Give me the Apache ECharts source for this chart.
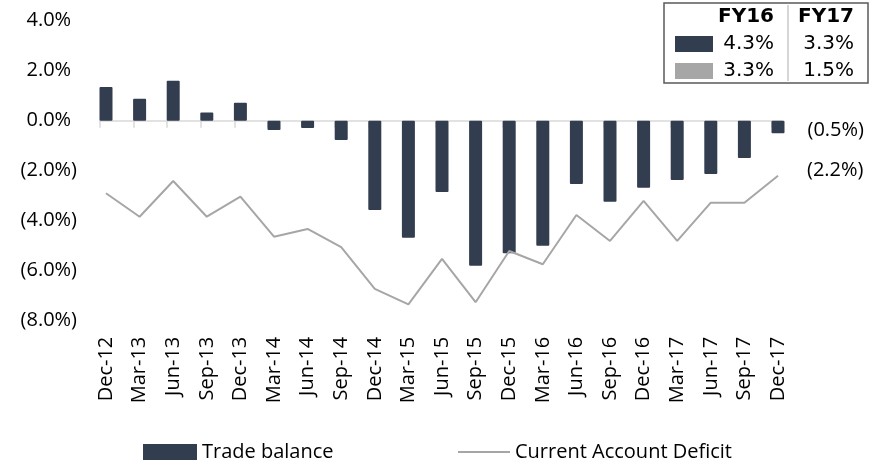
<!DOCTYPE html>
<html>
<head>
<meta charset="utf-8">
<script src="https://cdn.jsdelivr.net/npm/echarts@6/dist/echarts.min.js"></script>
<style>html,body{margin:0;padding:0;background:#fff}#c{width:889px;height:461px}</style>
</head>
<body>
<div id="c"></div>
<script>
var categories = ['Dec-12','Mar-13','Jun-13','Sep-13','Dec-13','Mar-14','Jun-14','Sep-14','Dec-14','Mar-15','Jun-15','Sep-15','Dec-15','Mar-16','Jun-16','Sep-16','Dec-16','Mar-17','Jun-17','Sep-17','Dec-17'];
var tradeBalance = [1.35, 0.88, 1.6, 0.33, 0.72, -0.37, -0.29, -0.77, -3.57, -4.68, -2.85, -5.8, -5.3, -5.0, -2.53, -3.24, -2.68, -2.37, -2.13, -1.49, -0.5];
var currentAccount = [-2.9, -3.84, -2.41, -3.84, -3.04, -4.64, -4.33, -5.06, -6.73, -7.35, -5.53, -7.26, -5.21, -5.74, -3.77, -4.81, -3.21, -4.81, -3.28, -3.28, -2.2];
var seriesNames = ['Trade balance', 'Current Account Deficit'];
var tableHeaders = ['FY16', 'FY17'];
var tradeFY = ['4.3%', '3.3%'];
var cadFY = ['3.3%', '1.5%'];

var DARK = '#323d4f', GREY = '#a6a6a6';
var FONT = '"Open Sans", sans-serif';
var TFONT = '"DejaVu Sans", Verdana, sans-serif';

function pct(v) {
  return v < 0 ? '(' + Math.abs(v).toFixed(1) + '%)' : v.toFixed(1) + '%';
}
var last = categories.length - 1;
var barData = tradeBalance.map(function (v, i) {
  return i === last ? { value: v, label: { show: true, position: 'right', distance: 23, offset: [0, 3], formatter: function (p) { return pct(p.value); } } } : v;
});

var chart = echarts.init(document.getElementById('c'), null, { renderer: 'canvas' });
var option = {
  animation: false,
  textStyle: { fontFamily: FONT },
  grid: [
    { left: 106, right: 111, top: 20.7, bottom: 140.3 },
    { left: 100, right: 107, top: 20.7, bottom: 140.3 }
  ],
  legend: [
    { data: [{ name: seriesNames[0], icon: 'rect' }], left: 138, top: 437, itemWidth: 54, itemHeight: 16, itemGap: 0,
      textStyle: { fontFamily: FONT, fontSize: 20, color: '#000' } },
    { data: [{ name: seriesNames[1], icon: 'rect' }], left: 453, top: 437, itemWidth: 52, itemHeight: 2, itemGap: 0,
      textStyle: { fontFamily: FONT, fontSize: 20, color: '#000' } }
  ],
  xAxis: [
    { type: 'category', gridIndex: 0, data: categories, boundaryGap: false,
      axisLine: { show: false }, axisTick: { show: false }, splitLine: { show: false },
      axisLabel: { rotate: 90, margin: 16, interval: 0, fontFamily: FONT, fontSize: 20, color: '#000' } },
    { type: 'value', gridIndex: 1, min: 0, max: 20.3, interval: 1,
      axisLine: { show: true, lineStyle: { color: '#d9d9d9', width: 1.5 } },
      axisTick: { show: true, length: 7, lineStyle: { color: '#d9d9d9', width: 1.5 } },
      axisLabel: { show: false }, splitLine: { show: false } }
  ],
  yAxis: [
    { type: 'value', gridIndex: 0, min: -8, max: 4, interval: 2,
      axisLine: { show: false }, axisTick: { show: false }, splitLine: { show: false },
      axisLabel: { margin: 29, fontFamily: FONT, fontSize: 20, color: '#000',
        formatter: function (v) { return v < 0 ? pct(v) : '{a|' + pct(v) + '}{p|)}'; },
        rich: { a: { fontFamily: FONT, fontSize: 20, color: '#000' }, p: { fontFamily: FONT, fontSize: 20, color: 'transparent' } } } },
    { type: 'value', gridIndex: 1, min: -8, max: 4, show: false }
  ],
  series: [
    { name: seriesNames[0], type: 'bar', xAxisIndex: 0, yAxisIndex: 0, data: barData, barWidth: 13, clip: false,
      itemStyle: { color: DARK, borderRadius: 1 },
      label: { fontFamily: FONT, fontSize: 20, color: '#000' } },
    { name: seriesNames[1], type: 'line', xAxisIndex: 0, yAxisIndex: 0, data: currentAccount, symbol: 'none', clip: false,
      lineStyle: { color: GREY, width: 2 }, itemStyle: { color: GREY },
      endLabel: { show: true, distance: 29, offset: [0, -5], fontFamily: FONT, fontSize: 20, color: '#000',
        formatter: function (p) { return pct(p.value); } } }
  ],
  graphic: [
    { type: 'rect', shape: { x: 664, y: 3, width: 204, height: 80 }, style: { fill: '#fff', stroke: '#595959', lineWidth: 1.5 }, z: 10 },
    { type: 'line', shape: { x1: 788, y1: 5, x2: 788, y2: 81 }, style: { stroke: '#c8c8c8', lineWidth: 1.5 }, z: 11 },
    { type: 'text', x: 774, y: 17, style: { text: tableHeaders[0], align: 'right', verticalAlign: 'middle', font: 'bold 20px ' + TFONT, fill: '#000' }, z: 11 },
    { type: 'text', x: 854, y: 17, style: { text: tableHeaders[1], align: 'right', verticalAlign: 'middle', font: 'bold 20px ' + TFONT, fill: '#000' }, z: 11 },
    { type: 'rect', shape: { x: 675, y: 36, width: 38, height: 16 }, style: { fill: DARK }, z: 11 },
    { type: 'text', x: 774, y: 44, style: { text: tradeFY[0], align: 'right', verticalAlign: 'middle', font: '20px ' + TFONT, fill: '#000' }, z: 11 },
    { type: 'text', x: 854, y: 44, style: { text: tradeFY[1], align: 'right', verticalAlign: 'middle', font: '20px ' + TFONT, fill: '#000' }, z: 11 },
    { type: 'rect', shape: { x: 675, y: 63, width: 38, height: 16 }, style: { fill: GREY }, z: 11 },
    { type: 'text', x: 774, y: 71, style: { text: cadFY[0], align: 'right', verticalAlign: 'middle', font: '20px ' + TFONT, fill: '#000' }, z: 11 },
    { type: 'text', x: 854, y: 71, style: { text: cadFY[1], align: 'right', verticalAlign: 'middle', font: '20px ' + TFONT, fill: '#000' }, z: 11 }
  ]
};
chart.setOption(option);
</script>
</body>
</html>
